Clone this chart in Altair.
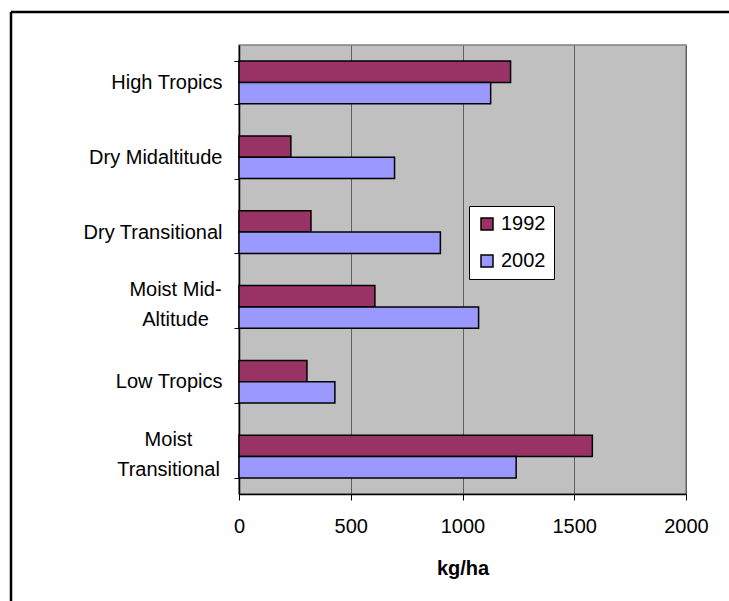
import altair as alt
import pandas as pd

categories = ["High Tropics", "Dry Midaltitude", "Dry Transitional",
              "Moist Mid-Altitude", "Low Tropics", "Moist Transitional"]
years = ["1992", "2002"]
values_1992 = [1215, 232, 322, 608, 304, 1581]
values_2002 = [1126, 696, 901, 1072, 429, 1240]
x_ticks = [0, 500, 1000, 1500, 2000]
colors = ["#993366", "#9999FF"]

rows = []
for c, a, b in zip(categories, values_1992, values_2002):
    rows.append({"region": c, "year": years[0], "kg": a})
    rows.append({"region": c, "year": years[1], "kg": b})
df = pd.DataFrame(rows)

FONT = "Liberation Sans"

label_expr = ("datum.value == 'Moist Mid-Altitude' ? ['Moist Mid-', 'Altitude'] : "
              "datum.value == 'Moist Transitional' ? ['Moist', 'Transitional'] : datum.value")
t1 = "datum.value == 'Moist Mid-Altitude'"
t2 = "datum.value == 'Moist Transitional'"

W, H = 447, 449

bars = alt.Chart(df).mark_bar(stroke="black", strokeWidth=1.5).encode(
    y=alt.Y("region:N", sort=categories,
            scale=alt.Scale(paddingInner=0.43, paddingOuter=0.215),
            axis=alt.Axis(title=None, labelExpr=label_expr, grid=False,
                          tickBand="extent", tickSize=5, tickColor="black",
                          domainColor="black", domainWidth=1.5,
                          labelFont=FONT, labelFontSize=20, labelColor="black",
                          labelLineHeight=30, labelBaseline="middle",
                          labelAlign={"condition": {"test": t1 + " || " + t2, "value": "center"},
                                      "value": "right"},
                          labelOffset={"condition": {"test": t1 + " || " + t2, "value": -17},
                                       "value": 0},
                          labelPadding={"condition": [{"test": t1, "value": 59},
                                                      {"test": t2, "value": 66}],
                                        "value": 12})),
    yOffset=alt.YOffset("year:N", sort=years),
    x=alt.X("kg:Q", scale=alt.Scale(domain=[0, 2000], nice=False),
            axis=alt.Axis(values=x_ticks, format="d", title="kg/ha", grid=True,
                          gridColor="#606060", gridWidth=1,
                          tickSize=6, tickColor="black", domainColor="black",
                          domainWidth=1.5,
                          labelFont=FONT, labelFontSize=20, labelColor="black",
                          labelPadding=16, labelFlush=False,
                          titleFont=FONT, titleFontSize=20, titleFontWeight="bold",
                          titleColor="black", titlePadding=22)),
    color=alt.Color("year:N", sort=years,
                    scale=alt.Scale(domain=years, range=colors),
                    legend=alt.Legend(title=None, orient="none", legendX=230, legendY=161,
                                      fillColor="white", strokeColor="black",
                                      padding=8, symbolType="square", symbolSize=144,
                                      symbolStrokeColor="black", symbolStrokeWidth=1.5,
                                      labelFont=FONT, labelFontSize=20, labelColor="black",
                                      labelOffset=4, rowPadding=17)),
)

frame = pd.DataFrame({"k": [0]})
top_line = alt.Chart(frame).mark_rule(color="black", strokeWidth=2.5).encode(
    x=alt.value(-228), x2=alt.value(W + 43), y=alt.value(-33)
)
left_line = alt.Chart(frame).mark_rule(color="black", strokeWidth=2.5).encode(
    x=alt.value(-228), y=alt.value(-33), y2=alt.value(H + 107)
)

chart = alt.layer(bars, top_line, left_line).properties(
    width=W, height=H,
    autosize=alt.AutoSizeParams(type="none"),
    padding={"left": 239, "top": 45, "right": 43, "bottom": 107},
    background="white",
).configure_view(
    fill="#C0C0C0", stroke="#808080", strokeWidth=1.5
)

chart.save("out.html", embed_options={"renderer": "svg", "actions": False})
